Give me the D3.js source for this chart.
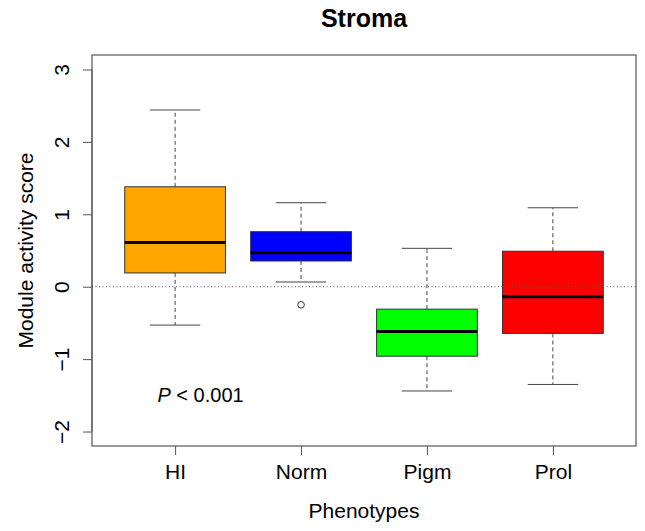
<!DOCTYPE html>
<html>
<head>
    <script src="https://d3js.org/d3.v7.min.js"></script>
    <style>
        body { margin: 0; background: #fff; }
        text { font-family: "Liberation Sans", Arial, sans-serif; fill: #000; }
    </style>
</head>
<body>
    <div id="chart"></div>
    <script>
        // data
        var groups = ["HI", "Norm", "Pigm", "Prol"];
        var colors = ["#FFA500", "#0000FF", "#00FF00", "#FF0000"];
        var whiskerLow = [-0.53, 0.065, -1.44, -1.35];
        var q1 = [0.19, 0.355, -0.96, -0.645];
        var median = [0.61, 0.47, -0.62, -0.14];
        var q3 = [1.38, 0.76, -0.31, 0.49];
        var whiskerHigh = [2.44, 1.16, 0.53, 1.09];
        var outliers = [{ g: "Norm", v: -0.25 }];
        var yTicks = [-2, -1, 0, 1, 2, 3];

        var W = 645, H = 531;
        var margin = { top: 55, right: 9, bottom: 85, left: 92 };
        var width = W - margin.left - margin.right,
            height = H - margin.top - margin.bottom;

        var svg = d3.select("#chart").append("svg")
            .attr("width", W).attr("height", H);
        var g = svg.append("g")
            .attr("transform", "translate(" + margin.left + "," + margin.top + ")");

        // R-style 4% extended ranges
        var x = d3.scaleLinear().domain([0.34, 4.66]).range([0, width]);
        var y = d3.scaleLinear().domain([-2.2, 3.2]).range([height, 0]);
        var boxHalf = (x(1.4) - x(1));
        var capHalf = boxHalf / 2;

        var data = groups.map(function (name, i) {
            return { name: name, i: i + 1, color: colors[i], lo: whiskerLow[i], q1: q1[i],
                     med: median[i], q3: q3[i], hi: whiskerHigh[i] };
        });

        var box = g.selectAll(".bx").data(data).enter().append("g").attr("class", "bx");

        // whiskers (dashed)
        box.append("line")
            .attr("x1", function (d) { return x(d.i); })
            .attr("x2", function (d) { return x(d.i); })
            .attr("y1", function (d) { return y(d.q3); })
            .attr("y2", function (d) { return y(d.hi); })
            .attr("stroke", "#444").attr("stroke-dasharray", "4,3");
        box.append("line")
            .attr("x1", function (d) { return x(d.i); })
            .attr("x2", function (d) { return x(d.i); })
            .attr("y1", function (d) { return y(d.q1); })
            .attr("y2", function (d) { return y(d.lo); })
            .attr("stroke", "#444").attr("stroke-dasharray", "4,3");
        // caps
        ["hi", "lo"].forEach(function (k) {
            box.append("line")
                .attr("x1", function (d) { return x(d.i) - capHalf; })
                .attr("x2", function (d) { return x(d.i) + capHalf; })
                .attr("y1", function (d) { return y(d[k]); })
                .attr("y2", function (d) { return y(d[k]); })
                .attr("stroke", "#444").attr("stroke-width", 1);
        });
        // boxes
        box.append("rect")
            .attr("x", function (d) { return x(d.i) - boxHalf; })
            .attr("width", boxHalf * 2)
            .attr("y", function (d) { return y(d.q3); })
            .attr("height", function (d) { return y(d.q1) - y(d.q3); })
            .attr("fill", function (d) { return d.color; })
            .attr("stroke", "#333").attr("stroke-width", 1);
        // medians
        box.append("line")
            .attr("x1", function (d) { return x(d.i) - boxHalf; })
            .attr("x2", function (d) { return x(d.i) + boxHalf; })
            .attr("y1", function (d) { return y(d.med); })
            .attr("y2", function (d) { return y(d.med); })
            .attr("stroke", "#000").attr("stroke-width", 3);

        // outliers
        g.selectAll(".out").data(outliers).enter().append("circle")
            .attr("cx", function (d) { return x(groups.indexOf(d.g) + 1); })
            .attr("cy", function (d) { return y(d.v); })
            .attr("r", 3.3)
            .attr("fill", "none").attr("stroke", "#333").attr("stroke-width", 1);

        // zero reference line
        g.append("line")
            .attr("x1", 0).attr("x2", width)
            .attr("y1", y(0)).attr("y2", y(0))
            .attr("stroke", "#7a4a4a").attr("stroke-width", 1)
            .attr("stroke-dasharray", "1,2.5");

        // frame
        g.append("rect")
            .attr("width", width).attr("height", height)
            .attr("fill", "none").attr("stroke", "#555").attr("stroke-width", 1.2);

        // y axis
        var yAxis = g.append("g")
            .call(d3.axisLeft(y).tickValues(yTicks).tickSize(9).tickSizeOuter(0)
                .tickFormat(function (d) { return d < 0 ? "\u2212" + Math.abs(d) : d; }));
        yAxis.select(".domain").attr("d", "M0," + y(3) + "V" + y(-2)).attr("stroke", "#555");
        yAxis.selectAll(".tick line").attr("stroke", "#555");
        yAxis.selectAll(".tick text")
            .attr("font-size", 21)
            .attr("x", 0)
            .attr("text-anchor", "middle")
            .attr("transform", "translate(-30,0) rotate(-90)")
            .attr("dy", "0.35em");

        // x axis
        var xAxis = g.append("g")
            .attr("transform", "translate(0," + height + ")")
            .call(d3.axisBottom(x).tickValues([1, 2, 3, 4]).tickSize(9).tickSizeOuter(0)
                .tickFormat(function (d) { return groups[d - 1]; }));
        xAxis.select(".domain").remove();
        xAxis.selectAll(".tick line").attr("stroke", "#555");
        xAxis.selectAll(".tick text").attr("font-size", 21).attr("y", 18);

        // titles
        svg.append("text")
            .attr("x", margin.left + width / 2).attr("y", 27)
            .attr("text-anchor", "middle")
            .attr("font-size", 25).attr("font-weight", "bold")
            .text("Stroma");
        svg.append("text")
            .attr("x", margin.left + width / 2).attr("y", 518)
            .attr("text-anchor", "middle")
            .attr("font-size", 21)
            .text("Phenotypes");
        svg.append("text")
            .attr("transform", "translate(33," + (margin.top + height / 2) + ") rotate(-90)")
            .attr("text-anchor", "middle")
            .attr("font-size", 21)
            .text("Module activity score");

        // p-value annotation
        var p = g.append("text")
            .attr("x", x(0.86)).attr("y", y(-1.59))
            .attr("font-size", 20);
        p.append("tspan").attr("font-style", "italic").text("P");
        p.append("tspan").text(" < 0.001");
    </script>
</body>
</html>
